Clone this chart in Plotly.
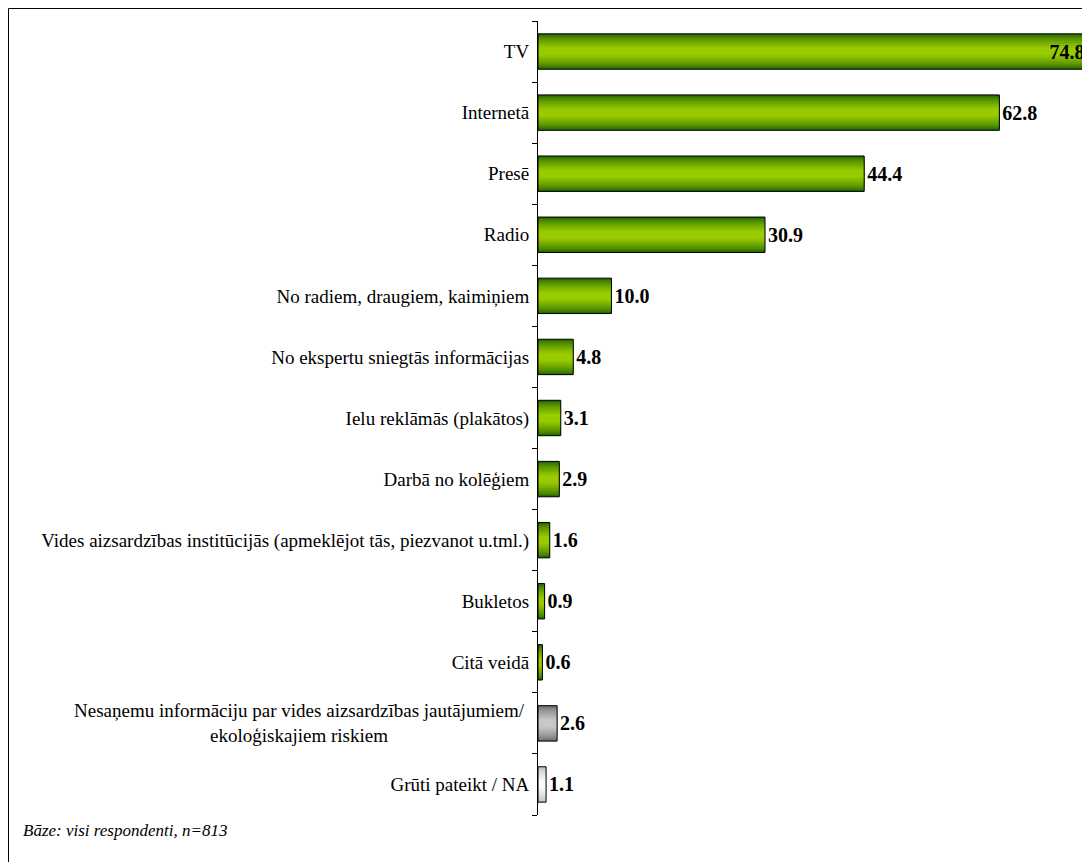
import plotly.graph_objects as go

# data
categories = [
    "TV",
    "Internetā",
    "Presē",
    "Radio",
    "No radiem, draugiem, kaimiņiem",
    "No ekspertu sniegtās informācijas",
    "Ielu reklāmās (plakātos)",
    "Darbā no kolēģiem",
    "Vides aizsardzības institūcijās (apmeklējot tās, piezvanot u.tml.)",
    "Bukletos",
    "Citā veidā",
    "Nesaņemu informāciju par vides aizsardzības jautājumiem/<br>ekoloģiskajiem riskiem",
    "Grūti pateikt / NA",
]
values = [74.8, 62.8, 44.4, 30.9, 10.0, 4.8, 3.1, 2.9, 1.6, 0.9, 0.6, 2.6, 1.1]
bar_group = ["green"] * 11 + ["gray", "light"]
footnote = "Bāze: visi respondenti, n=813"

FONT = "Liberation Serif"

# fake a vertical gradient by stacking narrower, lighter bars on top of each other
palettes = {
    "green": ((38, 104, 0), (153, 204, 0)),
    "gray": ((110, 110, 110), (200, 200, 200)),
    "light": ((190, 190, 190), (250, 250, 250)),
}


def mix(a, b, t):
    return "rgb(%d,%d,%d)" % tuple(round(a[i] + (b[i] - a[i]) * t) for i in range(3))


fig = go.Figure()

outer = 0.58
n_layers = 9
for k in range(n_layers):
    t = k / (n_layers - 1)
    w = outer - (outer - 0.12) * t
    colors = [mix(palettes[g][0], palettes[g][1], t ** 0.7) for g in bar_group]
    fig.add_trace(go.Bar(
        y=categories, x=values, orientation="h", width=w,
        marker=dict(color=colors, line=dict(width=0)),
        hoverinfo="skip", showlegend=False,
    ))

# outline + value labels on top
textpos = ["inside"] + ["outside"] * (len(values) - 1)
fig.add_trace(go.Bar(
    y=categories, x=values, orientation="h", width=outer,
    marker=dict(color="rgba(0,0,0,0)", line=dict(color="black", width=1)),
    text=["%.1f" % v for v in values],
    textposition=textpos,
    insidetextanchor="end",
    textfont=dict(family=FONT, size=20, color="black", weight="bold"),
    cliponaxis=False,
    showlegend=False,
))

tick_text = [c if "<br>" not in c else "" for c in categories]

PW, PH = 551, 794  # plot area size in px

# page adds an 8px body margin, so the figure is 8px smaller than the window
fig.update_layout(
    width=1082, height=854,
    barmode="overlay",
    margin=dict(l=530, r=1, t=13, b=47),
    paper_bgcolor="white",
    plot_bgcolor="white",
    font=dict(family=FONT, size=19, color="black"),
    xaxis=dict(range=[0, 75], visible=False, fixedrange=True),
    yaxis=dict(
        type="category",
        autorange="reversed",
        tickmode="array",
        tickvals=categories,
        ticktext=tick_text,
        tickson="boundaries",
        ticks="outside",
        ticklen=5,
        tickcolor="black",
        showline=True,
        linecolor="black",
        linewidth=1,
        showgrid=False,
        ticklabelstandoff=4,
        tickfont=dict(family=FONT, size=19, color="black"),
    ),
    shapes=[dict(
        type="rect", xref="paper", yref="paper",
        x0=-529.5 / PW, x1=1.05,
        y0=-70 / PH, y1=1 + 12.5 / PH,
        line=dict(color="black", width=1),
    )],
    annotations=[
        dict(
            text=footnote, xref="paper", yref="paper",
            x=-517 / PW, y=-15 / PH, xanchor="left", yanchor="middle",
            showarrow=False,
            font=dict(family=FONT, size=17, style="italic"),
        ),
    ] + [
        dict(
            text=c, xref="paper", yref="y", x=-11 / PW, y=c,
            xanchor="right", yanchor="middle", align="center",
            showarrow=False, font=dict(family=FONT, size=19),
        )
        for c in categories if "<br>" in c
    ],
)

fig.write_html("out.html")
